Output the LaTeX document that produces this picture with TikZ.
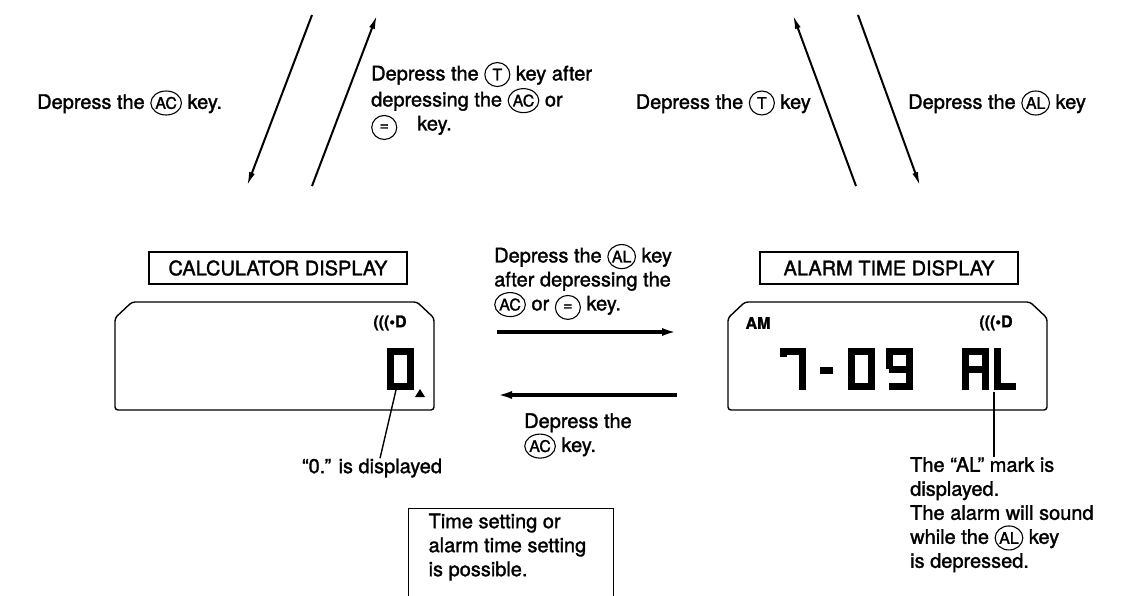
\documentclass[tikz,border=0pt]{standalone}
\usepackage{fontspec}
\setmainfont{TeX Gyre Heros}[FakeBold=1.5]
\usetikzlibrary{arrows.meta,positioning,shapes.geometric}
\tikzset{
  keyring/.style={draw, ellipse, inner sep=0pt, minimum width=25pt, minimum height=24pt, line width=1.1pt, font=\fontsize{16}{16}\selectfont},
  notetext/.style={align=left, inner sep=0pt, font=\fontsize{20}{24}\selectfont},
  titlebox/.style={draw, line width=1.2pt, inner sep=0pt, minimum width=258pt, minimum height=32pt, font=\fontsize{20}{24}\selectfont},
  settingbox/.style={draw, line width=1.2pt, anchor=north west, inner xsep=20pt, inner ysep=5pt, font=\fontsize{20}{24}\selectfont},
  moveline/.style={-{Latex[length=14pt,width=6pt]}, line width=2pt},
  swapline/.style={-{Latex[length=15pt,width=8pt]}, line width=3.2pt},
  leader/.style={line width=1.4pt},
  lcdframe/.style={line width=1.4pt, rounded corners=3pt},
  segment/.style={line width=7pt, line join=miter, line cap=butt},
  lcdmark/.style={inner sep=0pt, font=\fontsize{16}{16}\selectfont\bfseries}
}
\newcommand{\keycap}[1]{\tikz[baseline=(kc.base)]\node[keyring] (kc) {#1};}

\begin{document}
\begin{tikzpicture}[x=1pt,y=-1pt]
\useasboundingbox (0,0) rectangle (1130,595);
\clip (0,0) rectangle (1130,595);

% top: calculator side
\node[notetext, anchor=west] (acnote) at (37,103) {Depress the \keycap{AC} key.};
\coordinate (calcinA) at (312,15);
\coordinate (calcinB) at (247,186);
\coordinate (calcoutA) at (312,186);
\coordinate (calcoutB) at (377,15);
\draw[moveline] (calcinA) -- (calcinB);
\draw[moveline] (calcoutA) -- (calcoutB);
\node[notetext, anchor=west] (tafternote) at (371,101) {Depress the \keycap{T} key after\\depressing the \keycap{AC} or\\\keycap{=}\quad key.};

% top: alarm side
\node[notetext, anchor=east] (tnote) at (811,103) {Depress the \keycap{T} key};
\coordinate (alarmoutA) at (856,186);
\coordinate (alarmoutB) at (793,15);
\coordinate (alarminA) at (858,15);
\coordinate (alarminB) at (920,186);
\draw[moveline] (alarmoutA) -- (alarmoutB);
\draw[moveline] (alarminA) -- (alarminB);
\node[notetext, anchor=west] (alnote) at (908,103) {Depress the \keycap{AL} key};

% calculator display
\node[titlebox] (calctitle) at (278,268) {CALCULATOR DISPLAY};
\draw[lcdframe] (115,410) -- (115,318) -- (132,302) -- (417,302) -- (434,318) -- (434,410) -- cycle;
\node[lcdmark] (calcbell) at (390,323) {(((\textbullet D};
\draw[segment] (390,351) rectangle (410,386);
\fill (415,397) -- (425,397) -- (420,389) -- cycle;
\coordinate (zerofoot) at (396,390);
\node[notetext] (zeronote) at (372,468) {``0.'' is displayed};
\draw[leader] (zerofoot) -- ([xshift=8pt]zeronote.north);

% switching between displays
\node[notetext, anchor=west] (swapnote) at (494,282) {Depress the \keycap{AL} key\\after depressing the\\\keycap{AC} or \keycap{=} key.};
\coordinate (toalarmA) at (497,332);
\coordinate (toalarmB) at (677,332);
\coordinate (tocalcA) at (677,395);
\coordinate (tocalcB) at (497,395);
\draw[swapline] (toalarmA) -- (toalarmB);
\draw[swapline] (tocalcA) -- (tocalcB);
\node[notetext, anchor=west] (backnote) at (524,436) {Depress the\\\keycap{AC} key.};

% alarm time display
\node[titlebox] (alarmtitle) at (889,268) {ALARM TIME DISPLAY};
\draw[lcdframe] (728,410) -- (728,318) -- (745,302) -- (1030,302) -- (1047,318) -- (1047,410) -- cycle;
\node[lcdmark] (ammark) at (758,323) {AM};
\node[lcdmark] (alarmbell) at (996,323) {(((\textbullet D};
\draw[segment] (783,357) -- (783,351.5) -- (802,351.5) -- (802,390);
\draw[segment] (820,370) -- (833,370);
\draw[segment] (851,351.5) rectangle (871,386.5);
\draw[segment] (889,369) -- (909,369);
\draw[segment] (889,369) -- (889,351.5) -- (909,351.5) -- (909,386.5) -- (889,386.5);
\draw[segment] (965,390) -- (965,351.5) -- (985,351.5) -- (985,390);
\draw[segment] (965,369) -- (985,369);
\draw[segment] (997,348) -- (997,386.5) -- (1016,386.5);
\coordinate (alfoot) at (994,392);
\node[notetext, anchor=north west] (markinfo) at (910,457) {The ``AL'' mark is\\displayed.\\The alarm will sound\\while the \keycap{AL} key\\is depressed.};
\draw[leader] (alfoot) -- (alfoot |- markinfo.north);

% open box at the bottom
\node[settingbox] (settingnote) at (408,508) {\parbox[t][110pt][t]{165pt}{\raggedright Time setting or\\alarm time setting\\is possible.}};
\end{tikzpicture}
\end{document}
